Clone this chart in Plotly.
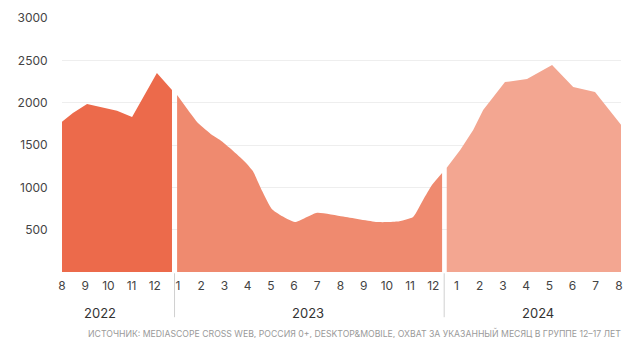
import plotly.graph_objects as go

# x positions in months counted from Aug 2022 (0) to Aug 2024 (24)
x_2022 = [0, 0.47, 1.08, 2.37, 3.02, 4.09, 4.74]
y_2022 = [1775, 1877, 1983, 1905, 1830, 2350, 2150]

x_2023 = [4.96, 5.43, 5.86, 6.47, 6.81, 7.33, 7.89, 8.23, 8.62, 9.05, 9.40,
          10.04, 10.99, 12.11, 13.58, 14.44, 15.13, 15.56, 15.95, 16.38]
y_2023 = [2090, 1913, 1759, 1617, 1558, 1440, 1299, 1190, 960, 740, 673,
          590, 700, 655, 590, 595, 650, 850, 1030, 1170]

x_2024 = [16.58, 17.16, 17.72, 18.15, 19.09, 20.04, 21.12, 22.03, 22.97, 24.1]
y_2024 = [1230, 1440, 1676, 1913, 2243, 2279, 2444, 2184, 2125, 1735]

month_ticks = ["8", "9", "10", "11", "12",
               "1", "2", "3", "4", "5", "6", "7", "8", "9", "10", "11", "12",
               "1", "2", "3", "4", "5", "6", "7", "8"]
years = ["2022", "2023", "2024"]
year_pos = [1.64, 10.6, 20.5]
dividers = [4.85, 16.47]
y_ticks = [500, 1000, 1500, 2000, 2500, 3000]

source = ("ИСТОЧНИК: MEDIASCOPE CROSS WEB, РОССИЯ 0+, DESKTOP&MOBILE, "
          "ОХВАТ ЗА УКАЗАННЫЙ МЕСЯЦ В ГРУППЕ 12–17 ЛЕТ")

fig = go.Figure()
fig.add_trace(go.Scatter(x=x_2022, y=y_2022, fill="tozeroy", mode="none",
                         fillcolor="#ec6a4b", hoverinfo="skip"))
fig.add_trace(go.Scatter(x=x_2023, y=y_2023, fill="tozeroy", mode="lines",
                         line=dict(width=0, shape="spline", smoothing=0.5),
                         fillcolor="#ef8a6f", hoverinfo="skip"))
fig.add_trace(go.Scatter(x=x_2024, y=y_2024, fill="tozeroy", mode="none",
                         fillcolor="#f3a691", hoverinfo="skip"))

for d in dividers:
    fig.add_shape(type="line", xref="x", yref="paper", x0=d, x1=d,
                  y0=-0.005, y1=-0.178, line=dict(color="#d0d0d0", width=1))

for yr, pos in zip(years, year_pos):
    fig.add_annotation(x=pos, y=-0.161, xref="x", yref="paper", text=yr,
                       yanchor="middle", showarrow=False,
                       font=dict(size=13, color="#333333"))

fig.add_annotation(x=1.004, y=-0.24, xref="paper", yref="paper", text=source,
                   xanchor="right", yanchor="middle", showarrow=False,
                   font=dict(size=8.7, color="#9a9a9a"))

fig.update_layout(
    width=623, height=338,
    margin=dict(l=62, r=2, t=18, b=66),
    paper_bgcolor="white",
    plot_bgcolor="white",
    showlegend=False,
    font=dict(family="Inter, 'Open Sans', sans-serif", color="#444444"),
    xaxis=dict(
        range=[0, 24.09],
        tickvals=list(range(25)),
        ticktext=month_ticks,
        showgrid=False, zeroline=False, showline=False, automargin=False,
        ticks="outside", ticklen=3, tickcolor="rgba(0,0,0,0)",
        ticklabeloverflow="allow",
        tickfont=dict(size=12, color="#444444"),
    ),
    yaxis=dict(
        range=[0, 3000],
        tickvals=y_ticks,
        gridcolor="#eeeeee", gridwidth=1, automargin=False,
        zeroline=False, showline=False,
        ticks="outside", ticklen=11, tickcolor="rgba(0,0,0,0)",
        tickfont=dict(size=12, color="#444444"),
    ),
)

# drop the default page margin so the figure sits at the window's corner
fig.write_html(
    "out.html",
    config={"displayModeBar": False},
    post_script="document.body.style.margin='0';document.body.style.overflow='hidden';",
)
